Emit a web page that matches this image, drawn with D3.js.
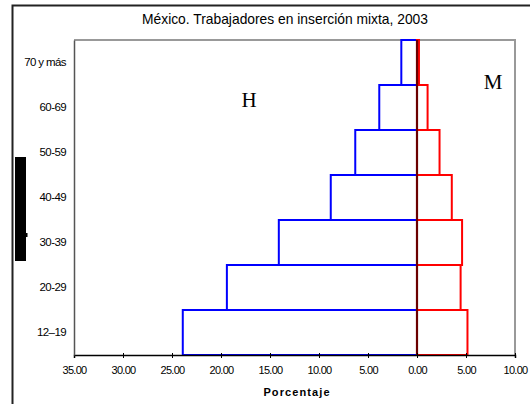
<!DOCTYPE html>
<html><head><meta charset="utf-8">
<script src="https://cdn.jsdelivr.net/npm/d3@7/dist/d3.min.js"></script>
<style>body{margin:0;background:#fff}svg{display:block}</style>
</head><body>
<svg id="c" width="530" height="404"></svg>
<script>
const categories = ["12–19","20-29","30-39","40-49","50-59","60-69","70 y más"];
const hombres = [23.9, 19.4, 14.1, 8.8, 6.3, 3.85, 1.6];
const mujeres = [5.15, 4.45, 4.6, 3.55, 2.3, 1.08, 0.2];
const xTicks = [-35,-30,-25,-20,-15,-10,-5,0,5,10];
const title = "México. Trabajadores en inserción mixta, 2003";

const svg = d3.select("#c");
const L=74, R=515, T=40, B=355;
const x = d3.scaleLinear().domain([-35,10]).range([L,R]);
const y = d3.scaleBand().domain(categories.slice().reverse()).range([T,B]).padding(0);

// outer frame
svg.append("path").attr("d","M12.5,404 V5.5 H530").attr("fill","none").attr("stroke","#222").attr("stroke-width",2);
// black block
svg.append("rect").attr("x",15).attr("y",157).attr("width",11).attr("height",104).attr("fill","#000");
svg.append("rect").attr("x",26).attr("y",233).attr("width",1.5).attr("height",4).attr("fill","#000");

// title
svg.append("text").attr("x",285).attr("y",24).attr("text-anchor","middle")
  .attr("font-family","Liberation Sans, Arial").attr("font-size",15)
  .attr("textLength",286).attr("lengthAdjust","spacingAndGlyphs").text(title);

// plot frame top/right gray
svg.append("path").attr("d",`M${L},${T} H${R} V${B}`).attr("fill","none").attr("stroke","#999").attr("stroke-width",2);

// bars
svg.append("g").selectAll("rect").data(categories).join("rect")
  .attr("x",(d,i)=>x(-hombres[i])).attr("y",d=>y(d))
  .attr("width",(d,i)=>x(0)-x(-hombres[i])).attr("height",y.bandwidth())
  .attr("fill","none").attr("stroke","#0000ff").attr("stroke-width",2);
svg.append("g").selectAll("rect").data(categories).join("rect")
  .attr("x",x(0)).attr("y",d=>y(d))
  .attr("width",(d,i)=>x(mujeres[i])-x(0)).attr("height",y.bandwidth())
  .attr("fill","none").attr("stroke","#ff0000").attr("stroke-width",2);

// zero line
svg.append("line").attr("x1",x(0)).attr("x2",x(0)).attr("y1",T).attr("y2",B)
  .attr("stroke","#6b0000").attr("stroke-width",2.2);

// x axis
const xa = svg.append("g").attr("transform",`translate(0,${B})`)
  .call(d3.axisBottom(x).tickValues(xTicks).tickSize(3).tickPadding(8)
    .tickFormat(d=>Math.abs(d).toFixed(2)));
xa.select(".domain").attr("stroke","#000").attr("stroke-width",1.5);
xa.selectAll(".tick line").attr("stroke","#000").attr("y1",-2).attr("y2",3);
xa.selectAll("text").attr("font-family","Liberation Sans, Arial").attr("font-size",11)
  .attr("letter-spacing","-0.7").attr("fill","#000");

// y axis
const ya = svg.append("g").attr("transform",`translate(${L},0)`)
  .call(d3.axisLeft(y).tickSize(0).tickPadding(8));
ya.select(".domain").attr("stroke","#555").attr("stroke-width",1.5);
ya.selectAll("text").attr("font-family","Liberation Sans, Arial").attr("font-size",11.5)
  .attr("letter-spacing","-0.6").attr("fill","#000");

// x title
svg.append("text").attr("x",297).attr("y",396).attr("text-anchor","middle")
  .attr("font-family","Liberation Sans, Arial").attr("font-size",11).attr("font-weight","bold")
  .attr("letter-spacing","1.1").text("Porcentaje");

// H / M
svg.append("text").attr("x",249).attr("y",107).attr("text-anchor","middle")
  .attr("font-family","Liberation Serif, Times New Roman").attr("font-size",21).text("H");
svg.append("text").attr("x",493).attr("y",89).attr("text-anchor","middle")
  .attr("font-family","Liberation Serif, Times New Roman").attr("font-size",21).text("M");
</script>
</body></html>
